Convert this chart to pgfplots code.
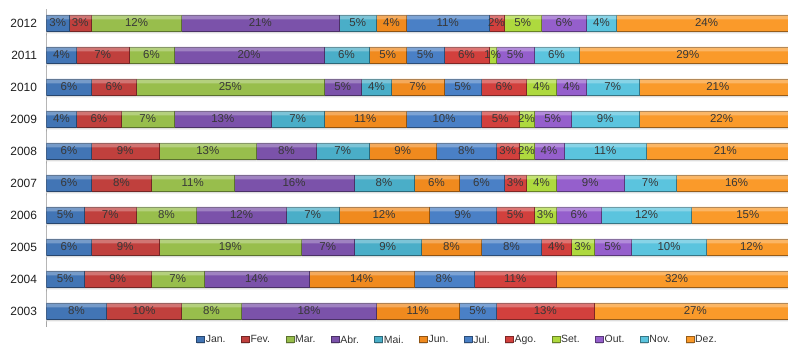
\documentclass[border=0pt]{standalone}
\usepackage{pgfplots}
\pgfplotsset{compat=1.18}
\usepackage{pgfplotstable}
\usepackage{fontspec}
\setmainfont{Liberation Sans}

\definecolor{cJan}{HTML}{4275B5}
\definecolor{cFev}{HTML}{C0403D}
\definecolor{cMar}{HTML}{98BE4C}
\definecolor{cAbr}{HTML}{7B52AA}
\definecolor{cMai}{HTML}{4AAEC8}
\definecolor{cJun}{HTML}{F08A1E}
\definecolor{cJul}{HTML}{4A80C6}
\definecolor{cAgo}{HTML}{D2403D}
\definecolor{cSet}{HTML}{AED93E}
\definecolor{cOut}{HTML}{955FCC}
\definecolor{cNov}{HTML}{5BC4DE}
\definecolor{cDez}{HTML}{FA9A2A}

\pgfplotstableread{
Y    Jan Fev Mar Abr Mai Jun Jul Ago Set Out Nov Dez
2003 8   10  8   18  0   11  5   13  0   0   0   27
2004 5   9   7   14  0   14  8   11  0   0   0   32
2005 6   9   19  7   9   8   8   4   3   5   10  12
2006 5   7   8   12  7   12  9   5   3   6   12  15
2007 6   8   11  16  8   6   6   3   4   9   7   16
2008 6   9   13  8   7   9   8   3   2   4   11  21
2009 4   6   7   13  7   11  10  5   2   5   9   22
2010 6   6   25  5   4   7   5   6   4   4   7   21
2011 4   7   6   20  6   5   5   6   1   5   6   29
2012 3   3   12  21  5   4   11  2   5   6   4   24
}\data

\begin{document}
\begin{tikzpicture}
\useasboundingbox (0,0) rectangle (788bp,346bp);
\begin{axis}[
  at={(46.5bp,19bp)}, anchor=south west,
  x=7.5bp, y=32bp,
  xmin=0, xmax=102, ymin=2002.5, ymax=2012.45,
  xbar stacked, bar width=16bp,
  axis x line=none,
  axis y line*=left,
  y axis line style={-, draw=black!35, line width=1.5bp},
  ytick={2003,2004,2005,2006,2007,2008,2009,2010,2011,2012},
  yticklabels={2003,2004,2005,2006,2007,2008,2009,2010,2011,2012},
  major tick length=0pt,
  yticklabel style={font=\fontsize{12}{14}\selectfont, text=black!88, xshift=-6bp},
  /pgf/number format/assume math mode=true,
  seg/.style={
    visualization depends on={\thisrow{#1} \as \myval},
    fill=c#1, draw=c#1!60!black, line width=0.5bp,
    preaction={fill=black!13, draw=none, transform canvas={yshift=-2.5bp}},
    postaction={fill=white, fill opacity=0.28, draw=none, transform canvas={yshift=11.5bp}},
  },
  nodes near coords={\ifdim\myval pt>0.1pt \pgfmathprintnumber{\myval}\%\fi},
  nodes near coords align={center},
  every node near coord/.append style={anchor=center,
    font=\fontsize{11.5}{13}\selectfont, text=black!78, inner sep=0pt},
  xbar legend/.style={legend image code/.code={\path[##1, line width=0.3bp] (0bp,-3bp) rectangle (6bp,3bp);}},
  legend columns=12,
  legend style={at={(0.5366,0)}, anchor=center, yshift=-13bp, draw=none, fill=none,
    font=\fontsize{10.5}{12}\selectfont, text=black!80,
    /tikz/every even column/.append style={column sep=14.5bp},
    nodes={inner sep=1bp}},
]
\addplot[seg=Jan] table[x=Jan, y=Y] {\data};
\addplot[seg=Fev] table[x=Fev, y=Y] {\data};
\addplot[seg=Mar] table[x=Mar, y=Y] {\data};
\addplot[seg=Abr] table[x=Abr, y=Y] {\data};
\addplot[seg=Mai] table[x=Mai, y=Y] {\data};
\addplot[seg=Jun] table[x=Jun, y=Y] {\data};
\addplot[seg=Jul] table[x=Jul, y=Y] {\data};
\addplot[seg=Ago] table[x=Ago, y=Y] {\data};
\addplot[seg=Set] table[x=Set, y=Y] {\data};
\addplot[seg=Out] table[x=Out, y=Y] {\data};
\addplot[seg=Nov] table[x=Nov, y=Y] {\data};
\addplot[seg=Dez] table[x=Dez, y=Y] {\data};
\legend{Jan.,Fev.,Mar.,Abr.,Mai.,Jun.,Jul.,Ago.,Set.,Out.,Nov.,Dez.}
\end{axis}
\end{tikzpicture}
\end{document}
